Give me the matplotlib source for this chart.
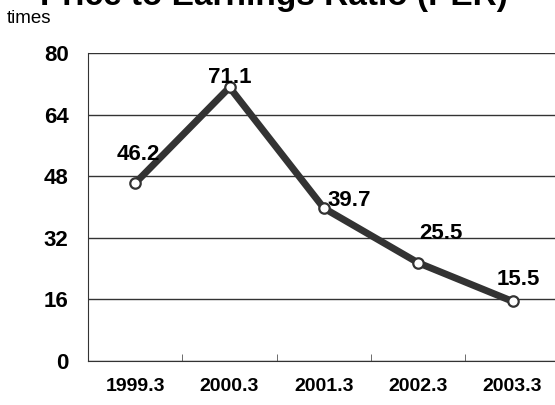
import numpy as np
import matplotlib.pyplot as plt

plt.rcParams['font.family'] = ['Liberation Sans', 'DejaVu Sans']

periods = ['1999.3', '2000.3', '2001.3', '2002.3', '2003.3']
per = [46.2, 71.1, 39.7, 25.5, 15.5]
yticks = [0, 16, 32, 48, 64, 80]
# label offsets in points, per point
offs = [(2, 17), (0, 3), (18, 1.5), (16, 17), (4, 12)]

fig = plt.figure(figsize=(5.55, 4.05), dpi=100)
ax = fig.add_axes([0.1586, 0.1086, 0.85, 0.7604])

x = np.arange(len(periods))
ax.plot(x, per, color='#333333', lw=5, solid_capstyle='round', zorder=3)
ax.plot(x, per, 'o', ms=7.5, mfc='white', mec='#333333', mew=1.6, zorder=4)

for i, v in enumerate(per):
    ax.annotate('%.1f' % v, (x[i], v), xytext=offs[i], textcoords='offset points',
                ha='center', va='baseline', fontsize=16, fontweight='bold', zorder=5)

ax.set_xlim(-0.5, len(periods) - 0.5)
ax.set_ylim(0, 80)
ax.set_yticks(yticks)
ax.set_yticklabels([str(t) for t in yticks], fontsize=16, fontweight='bold')
ax.set_xticks(x)
ax.set_xticklabels(periods, fontsize=14, fontweight='bold')
ax.set_xticks(x[:-1] + 0.5, minor=True)
ax.tick_params(axis='x', which='major', length=0, pad=12)
ax.tick_params(axis='x', which='minor', direction='in', length=5, color='#555555')
ax.tick_params(axis='y', length=0, pad=14)
ax.yaxis.grid(True, color='#333333', lw=1)
ax.set_axisbelow(True)

for s in ['top', 'right']:
    ax.spines[s].set_visible(False)
ax.spines['left'].set_color('#333333')
ax.spines['bottom'].set_color('#333333')

fig.text(0.494, 0.988, 'Price to Earnings Ratio (PER)', ha='center', va='baseline',
         fontsize=24, fontweight='bold')
fig.text(0.012, 0.955, 'times', ha='left', va='center', fontsize=13.5)

fig.savefig('out.png', dpi=100)
